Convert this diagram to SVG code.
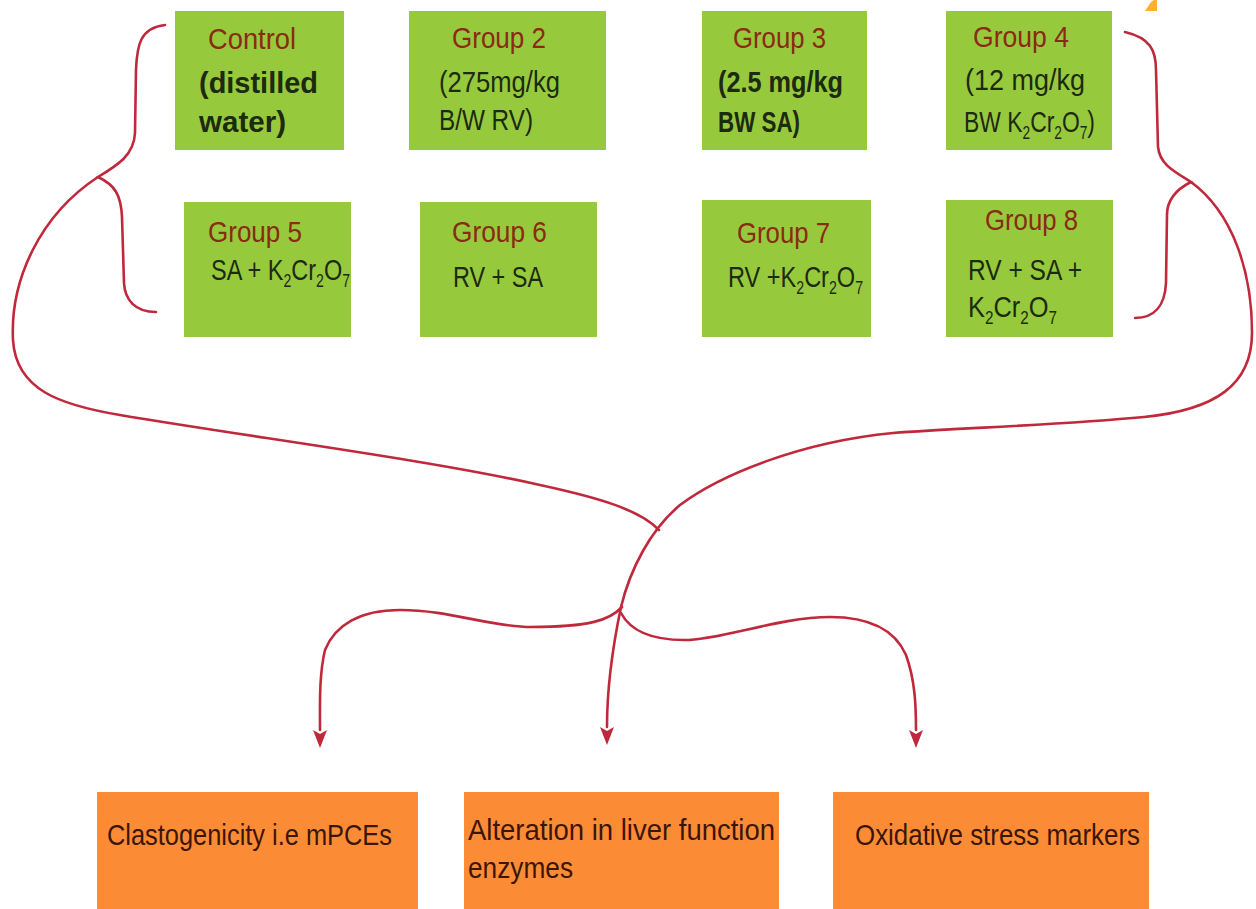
<svg xmlns="http://www.w3.org/2000/svg" width="1256" height="909" viewBox="0 0 1256 909">
<style>
.g{fill:#97C93D}
.o{fill:#FB8C35}
.t{font-family:"Liberation Sans",Arial,sans-serif;font-size:30px;fill:#8A2A12}
.b{font-family:"Liberation Sans",Arial,sans-serif;font-size:30px;fill:#1C2A10}
.bb{font-weight:bold}
.r{font-family:"Liberation Sans",Arial,sans-serif;font-size:30px;fill:#3B1608}
.c{fill:none;stroke:#C0283C;stroke-width:2.6;stroke-linecap:round}
.s{font-size:18px}
</style>
<defs>
<marker id="ah" markerUnits="userSpaceOnUse" markerWidth="20" markerHeight="16" refX="0" refY="7" orient="auto">
<path d="M0,0 L18,7 L0,14 L4,7 z" fill="#C0283C"/>
</marker>
</defs>
<rect width="1256" height="909" fill="#FFFFFF"/>
<polygon points="1145,11 1151,2 1154,0 1157,0 1157,11" fill="#FFB02E"/>

<g id="control">
<rect class="g" x="175" y="11" width="169" height="139"/>
<text class="t" x="208" y="49" textLength="88" lengthAdjust="spacingAndGlyphs">Control</text>
<text class="b bb" x="199" y="93" textLength="119" lengthAdjust="spacingAndGlyphs">(distilled</text>
<text class="b bb" x="199" y="132" textLength="87" lengthAdjust="spacingAndGlyphs">water)</text>
</g>
<g id="group2">
<rect class="g" x="409" y="11" width="197" height="139"/>
<text class="t" x="452" y="48" textLength="94" lengthAdjust="spacingAndGlyphs">Group 2</text>
<text class="b" x="439" y="92" textLength="121" lengthAdjust="spacingAndGlyphs">(275mg/kg</text>
<text class="b" x="439" y="130" textLength="94" lengthAdjust="spacingAndGlyphs">B/W  RV)</text>
</g>
<g id="group3">
<rect class="g" x="702" y="11" width="165" height="139"/>
<text class="t" x="733" y="48" textLength="93" lengthAdjust="spacingAndGlyphs">Group 3</text>
<text class="b bb" x="718" y="92" textLength="125" lengthAdjust="spacingAndGlyphs">(2.5 mg/kg</text>
<text class="b bb" x="718" y="132" textLength="82" lengthAdjust="spacingAndGlyphs">BW SA)</text>
</g>
<g id="group4">
<rect class="g" x="946" y="11" width="166" height="139"/>
<text class="t" x="973" y="47" textLength="96" lengthAdjust="spacingAndGlyphs">Group 4</text>
<text class="b" x="965" y="90" textLength="120" lengthAdjust="spacingAndGlyphs">(12 mg/kg</text>
<text class="b" x="964" y="132" textLength="131" lengthAdjust="spacingAndGlyphs">BW K<tspan class="s" dy="7">2</tspan><tspan dy="-7">Cr</tspan><tspan class="s" dy="7">2</tspan><tspan dy="-7">O</tspan><tspan class="s" dy="7">7</tspan><tspan dy="-7">)</tspan></text>
</g>
<g id="group5">
<rect class="g" x="184" y="202" width="167" height="135"/>
<text class="t" x="208" y="242" textLength="94" lengthAdjust="spacingAndGlyphs">Group 5</text>
<text class="b" x="211" y="280" textLength="139" lengthAdjust="spacingAndGlyphs">SA + K<tspan class="s" dy="7">2</tspan><tspan dy="-7">Cr</tspan><tspan class="s" dy="7">2</tspan><tspan dy="-7">O</tspan><tspan class="s" dy="7">7</tspan></text>
</g>
<g id="group6">
<rect class="g" x="420" y="202" width="177" height="135"/>
<text class="t" x="452" y="242" textLength="95" lengthAdjust="spacingAndGlyphs">Group 6</text>
<text class="b" x="453" y="287" textLength="90" lengthAdjust="spacingAndGlyphs">RV + SA</text>
</g>
<g id="group7">
<rect class="g" x="702" y="200" width="169" height="137"/>
<text class="t" x="737" y="243" textLength="93" lengthAdjust="spacingAndGlyphs">Group 7</text>
<text class="b" x="728" y="287" textLength="135" lengthAdjust="spacingAndGlyphs">RV +K<tspan class="s" dy="7">2</tspan><tspan dy="-7">Cr</tspan><tspan class="s" dy="7">2</tspan><tspan dy="-7">O</tspan><tspan class="s" dy="7">7</tspan></text>
</g>
<g id="group8">
<rect class="g" x="946" y="200" width="167" height="137"/>
<text class="t" x="985" y="230" textLength="93" lengthAdjust="spacingAndGlyphs">Group 8</text>
<text class="b" x="968" y="280" textLength="114" lengthAdjust="spacingAndGlyphs">RV + SA +</text>
<text class="b" x="968" y="317" textLength="89" lengthAdjust="spacingAndGlyphs">K<tspan class="s" dy="7">2</tspan><tspan dy="-7">Cr</tspan><tspan class="s" dy="7">2</tspan><tspan dy="-7">O</tspan><tspan class="s" dy="7">7</tspan></text>
</g>

<g id="clastogenicity">
<rect class="o" x="97" y="792" width="321" height="117"/>
<text class="r" x="107" y="845" textLength="285" lengthAdjust="spacingAndGlyphs">Clastogenicity i.e mPCEs</text>
</g>
<g id="liver">
<rect class="o" x="464" y="792" width="315" height="117"/>
<text class="r" x="468" y="840" textLength="307" lengthAdjust="spacingAndGlyphs">Alteration in liver function</text>
<text class="r" x="468" y="878" textLength="105" lengthAdjust="spacingAndGlyphs">enzymes</text>
</g>
<g id="oxidative">
<rect class="o" x="833" y="792" width="316" height="117"/>
<text class="r" x="855" y="845" textLength="285" lengthAdjust="spacingAndGlyphs">Oxidative stress markers</text>
</g>

<g id="connectors">
<path class="c" d="M165,25 C140,28 137,45 136,70 L135,133 C134,155 118,165 98,177 C115,185 121,195 122,217 L124,283 C125,300 135,312 156,312"/>
<path class="c" d="M1125,32 C1150,38 1156,50 1156,70 L1158,147 C1160,165 1175,172 1191,182 C1175,190 1167,200 1167,215 L1166,283 C1165,305 1155,318 1135,318"/>
<path class="c" d="M98,177 C40,215 10,280 13,340 C16,390 60,405 120,415 C250,437 430,460 540,485 C600,498 640,510 659,530"/>
<path class="c" d="M1191,182 C1232,212 1252,270 1252,333 C1252,385 1215,410 1144,417 C1060,425 960,428 893,433 C800,442 720,475 680,505 C650,530 630,570 621,607 C612,650 607,690 607,727" marker-end="url(#ah)"/>
<path class="c" d="M622,607 C610,620 590,627 531,627 C490,627 450,610 400,610 C360,610 335,625 325,650 C319,675 320,705 320,730" marker-end="url(#ah)"/>
<path class="c" d="M621,613 C630,630 650,640 684,640 C720,640 780,617 830,617 C870,617 895,630 906,655 C915,680 916,705 916,730" marker-end="url(#ah)"/>
</g>
</svg>
